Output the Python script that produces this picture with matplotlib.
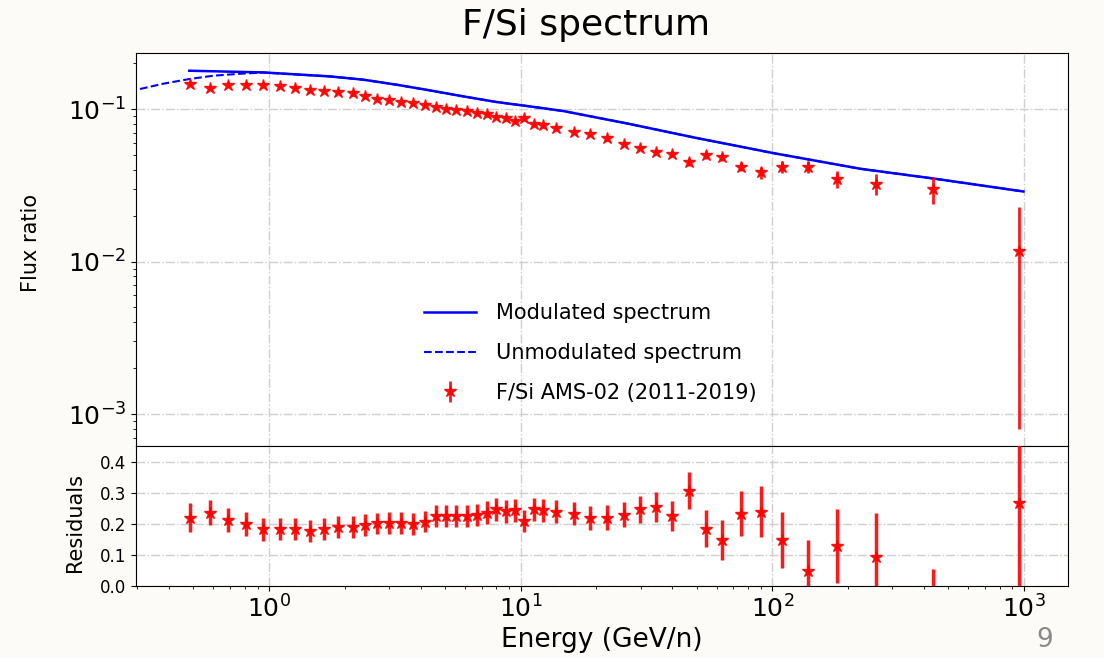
import matplotlib
matplotlib.use("Agg")
import matplotlib.pyplot as plt
import numpy as np

# ---------------- data ----------------
energy = [0.485, 0.583, 0.689, 0.808, 0.944, 1.106, 1.272, 1.455, 1.659, 1.880,
          2.151, 2.407, 2.695, 3.007, 3.357, 3.746, 4.169, 4.610, 5.052, 5.537,
          6.107, 6.693, 7.334, 7.984, 8.71, 9.48, 10.31, 11.28, 12.32, 13.81,
          16.35, 18.94, 22.05, 25.74, 29.83, 34.50, 39.98, 46.70, 54.52, 63.17,
          74.74, 90.27, 109.0, 138.0, 181.1, 257.8, 434.5, 957.0]

flux = [0.1466, 0.1374, 0.1437, 0.1443, 0.1443, 0.1406, 0.1374, 0.1340, 0.1318, 0.1293,
        0.1266, 0.1217, 0.1163, 0.1139, 0.1117, 0.1088, 0.1067, 0.1024, 0.1005, 0.0989,
        0.0964, 0.0941, 0.0927, 0.0886, 0.0868, 0.0834, 0.0868, 0.0797, 0.0781, 0.0746,
        0.0702, 0.0681, 0.0641, 0.0592, 0.0555, 0.0522, 0.0509, 0.0449, 0.0501, 0.0484,
        0.0420, 0.0384, 0.0416, 0.0420, 0.0347, 0.0324, 0.0300, 0.0118]

flux_err = [0.005, 0.005, 0.005, 0.005, 0.004, 0.004, 0.004, 0.004, 0.004, 0.004,
            0.004, 0.004, 0.003, 0.003, 0.003, 0.003, 0.003, 0.003, 0.003, 0.003,
            0.003, 0.003, 0.003, 0.003, 0.003, 0.003, 0.003, 0.003, 0.003, 0.003,
            0.002, 0.002, 0.002, 0.002, 0.002, 0.002, 0.0022, 0.0025, 0.003, 0.003,
            0.003, 0.0034, 0.0037, 0.0039, 0.0045, 0.005, 0.006, 0.011]

resid = [0.221, 0.237, 0.213, 0.200, 0.183, 0.183, 0.183, 0.178, 0.183, 0.191,
         0.191, 0.197, 0.202, 0.204, 0.204, 0.200, 0.208, 0.226, 0.226, 0.226,
         0.226, 0.229, 0.237, 0.248, 0.242, 0.245, 0.210, 0.248, 0.244, 0.240,
         0.234, 0.220, 0.220, 0.230, 0.248, 0.256, 0.226, 0.308, 0.185, 0.148,
         0.234, 0.240, 0.148, 0.049, 0.130, 0.095, -0.100, 0.267]

resid_err = [0.046, 0.040, 0.040, 0.038, 0.037, 0.035, 0.035, 0.035, 0.035, 0.035,
             0.035, 0.035, 0.035, 0.035, 0.035, 0.035, 0.035, 0.035, 0.035, 0.035,
             0.035, 0.035, 0.037, 0.037, 0.037, 0.037, 0.035, 0.037, 0.037, 0.037,
             0.036, 0.038, 0.040, 0.040, 0.043, 0.048, 0.049, 0.059, 0.060, 0.064,
             0.074, 0.083, 0.091, 0.100, 0.119, 0.140, 0.155, 0.500]

mod_E = [0.482, 0.949, 1.748, 2.371, 3.218, 4.365, 5.920, 8.035, 10.90, 14.78,
         26.41, 48.58, 101.0, 223.4, 443.7, 995.0]
mod_flux = [0.1783, 0.1738, 0.1636, 0.1557, 0.1443, 0.1324, 0.1210, 0.1111, 0.1040, 0.0970,
            0.0805, 0.0652, 0.0514, 0.0406, 0.0349, 0.0288]

unmod_E = [0.307, 0.380, 0.482, 0.601, 0.767, 0.949, 1.748, 2.371, 3.218, 4.365, 5.920,
           8.035, 10.90, 14.78, 26.41, 48.58, 101.0, 223.4, 443.7, 995.0]
unmod_flux = [0.1353, 0.1466, 0.1573, 0.1654, 0.1704, 0.1735, 0.1636, 0.1557, 0.1443, 0.1324,
              0.1210, 0.1111, 0.1040, 0.0970, 0.0805, 0.0652, 0.0514, 0.0406, 0.0349, 0.0288]

# ---------------- figure ----------------
bg = "#fdfbf7"
fig = plt.figure(figsize=(11.04, 6.58), dpi=100, facecolor=bg)

L, W = 136 / 1104, 932 / 1104
ax = fig.add_axes([L, 1 - 446 / 658, W, 393 / 658])
axr = fig.add_axes([L, 1 - 586 / 658, W, 140 / 658], sharex=ax)

grid_kw = dict(color="#cfcfcf", linestyle="-.", linewidth=1.0)

ax.plot(unmod_E, unmod_flux, color="blue", linestyle="--", linewidth=1.5,
        label="Unmodulated spectrum", zorder=3)
ax.plot(mod_E, mod_flux, color="blue", linestyle="-", linewidth=1.8,
        label="Modulated spectrum", zorder=4)
ax.errorbar(energy, flux, yerr=flux_err, fmt="*", color="red", ecolor="red",
            markersize=9, elinewidth=2.0, capsize=0, alpha=0.9,
            label="F/Si AMS-02 (2011-2019)", zorder=5)

ax.set_xscale("log")
ax.set_yscale("log")
ax.set_xlim(0.296, 1496)
ax.set_ylim(6.18e-4, 0.233)
ax.grid(True, which="major", **grid_kw)
ax.tick_params(axis="x", which="both", labelbottom=False)
ax.tick_params(axis="y", which="major", labelsize=18)
ax.set_facecolor("white")

handles, labels = ax.get_legend_handles_labels()
order = [1, 0, 2]
leg = ax.legend([handles[i] for i in order], [labels[i] for i in order],
                loc="center left", bbox_to_anchor=(0.298, 0.237), frameon=False,
                fontsize=15, borderpad=0, handlelength=2.5, handletextpad=0.96,
                labelspacing=0.95)

axr.errorbar(energy, resid, yerr=resid_err, fmt="*", color="red", ecolor="red",
             markersize=9, elinewidth=2.5, capsize=0, alpha=0.9, zorder=5)
axr.set_ylim(0.0, 0.452)
axr.set_yticks([0.0, 0.1, 0.2, 0.3, 0.4])
axr.grid(True, which="major", **grid_kw)
axr.tick_params(axis="y", labelsize=12)
axr.tick_params(axis="x", which="major", labelsize=18)
axr.set_xlabel("Energy (GeV/n)", fontsize=19, labelpad=3)
axr.set_facecolor("white")

fig.text(31 / 1104, 1 - 243 / 658, "Flux ratio", rotation=90, ha="center", va="center", fontsize=15)
fig.text(75 / 1104, 1 - 523 / 658, "Residuals", rotation=90, ha="center", va="center", fontsize=15)
fig.text(586 / 1104, 1 - 25 / 658, "F/Si spectrum", ha="center", va="center", fontsize=26)
fig.text(1045 / 1104, 1 - 640 / 658, "9", ha="center", va="center", fontsize=19, color="#8a8a8a")

fig.savefig("out.png", dpi=100, facecolor=bg)
